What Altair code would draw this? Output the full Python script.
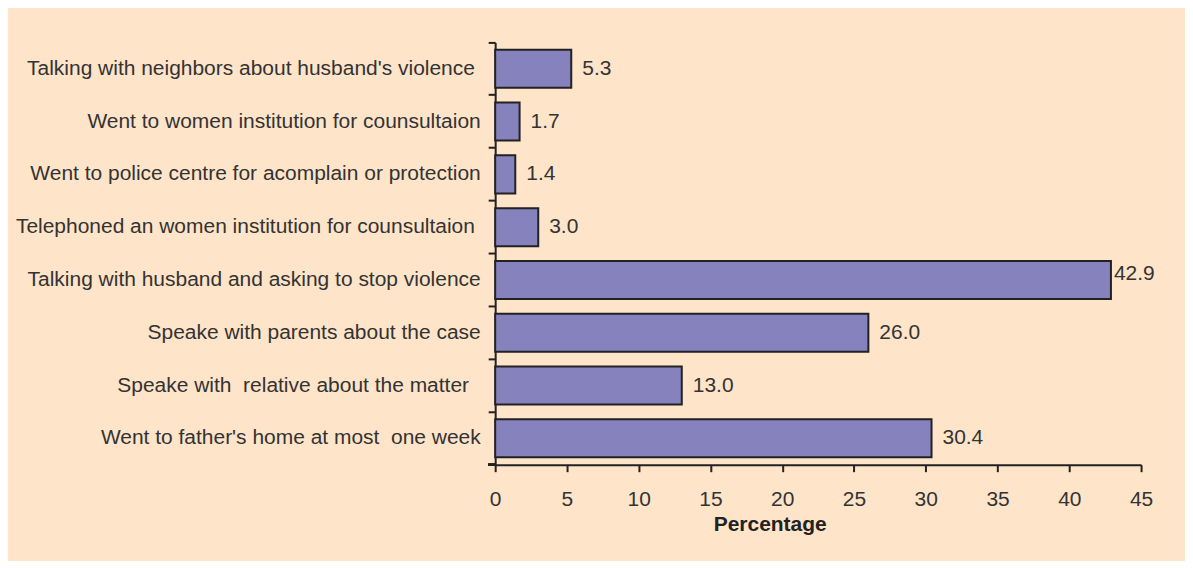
import altair as alt
import pandas as pd

ZW = "\u200b"
categories = [
    "Talking with neighbors about husband's violence\u00a0" + ZW,
    "Went to women institution for counsultaion",
    "Went to police centre for acomplain or protection",
    "Telephoned an women institution for counsultaion\u00a0" + ZW,
    "Talking with husband and asking to stop violence",
    "Speake with parents about the case",
    "Speake with\u00a0 relative about the matter\u00a0\u00a0" + ZW,
    "Went to father's home at most\u00a0 one week",
]
values = [5.3, 1.7, 1.4, 3.0, 42.9, 26.0, 13.0, 30.4]
x_ticks = [0, 5, 10, 15, 20, 25, 30, 35, 40, 45]

df = pd.DataFrame({"cat": categories, "val": values})

FONT = "Liberation Sans"
FS = 21
TXT = "#333333"
AX = "#222222"
W, H = 647, 423

y_enc = alt.Y(
    "cat:N",
    sort=None,
    scale=alt.Scale(paddingInner=0, paddingOuter=0),
    axis=alt.Axis(
        title=None,
        bandPosition=0,
        tickSize=7,
        tickWidth=2,
        tickColor=AX,
        domainColor=AX,
        domainWidth=2,
        labelPadding=8,
        labelFontSize=FS,
        labelFont=FONT,
        labelColor=TXT,
        labelLimit=600,
        minExtent=488,
        maxExtent=488,
    ),
)
x_enc = alt.X(
    "val:Q",
    scale=alt.Scale(domain=[0, 45], nice=False),
    axis=alt.Axis(
        values=x_ticks,
        title="Percentage",
        titleFont=FONT,
        titleFontSize=FS,
        titleFontWeight="bold",
        titleColor="#222222",
        titleBaseline="alphabetic",
        titleY=66,
        titleX=275,
        titleAlign="center",
        grid=False,
        tickSize=7,
        tickWidth=2,
        tickColor=AX,
        domainColor=AX,
        domainWidth=2,
        labelFontSize=FS,
        labelFont=FONT,
        labelColor=TXT,
        labelBaseline="alphabetic",
        labelPadding=34,
        labelFlush=False,
        labelOverlap=False,
    ),
)

bars = alt.Chart(df).mark_bar(
    height={"band": 0.72},
    fill="#8682BE",
    stroke="#222222",
    strokeWidth=2,
).encode(x=x_enc, y=y_enc)

text_common = dict(align="left", baseline="middle", font=FONT, fontSize=FS, color=TXT)

labels = alt.Chart(df).transform_filter("datum.val < 40").mark_text(
    dx=11, **text_common
).encode(
    x=alt.X("val:Q"),
    y=alt.Y("cat:N", sort=None),
    text=alt.Text("val:Q", format=".1f"),
)

labels_big = alt.Chart(df).transform_filter("datum.val >= 40").mark_text(
    dx=3, dy=-6, **text_common
).encode(
    x=alt.X("val:Q"),
    y=alt.Y("cat:N", sort=None),
    text=alt.Text("val:Q", format=".1f"),
)

bottom_tick = alt.Chart(df).mark_rule(color=AX, strokeWidth=2).encode(
    x=alt.value(-7), x2=alt.value(0), y=alt.value(H)
)

chart = (
    alt.layer(bars, labels, labels_big, bottom_tick)
    .properties(
        width=W,
        height=H,
        padding={"left": 0, "top": 33, "right": 30, "bottom": 26},
        background="#FEE4C9",
    )
    .configure_view(stroke=None)
)

chart.save("out.html", embed_options={"renderer": "svg", "actions": False})
